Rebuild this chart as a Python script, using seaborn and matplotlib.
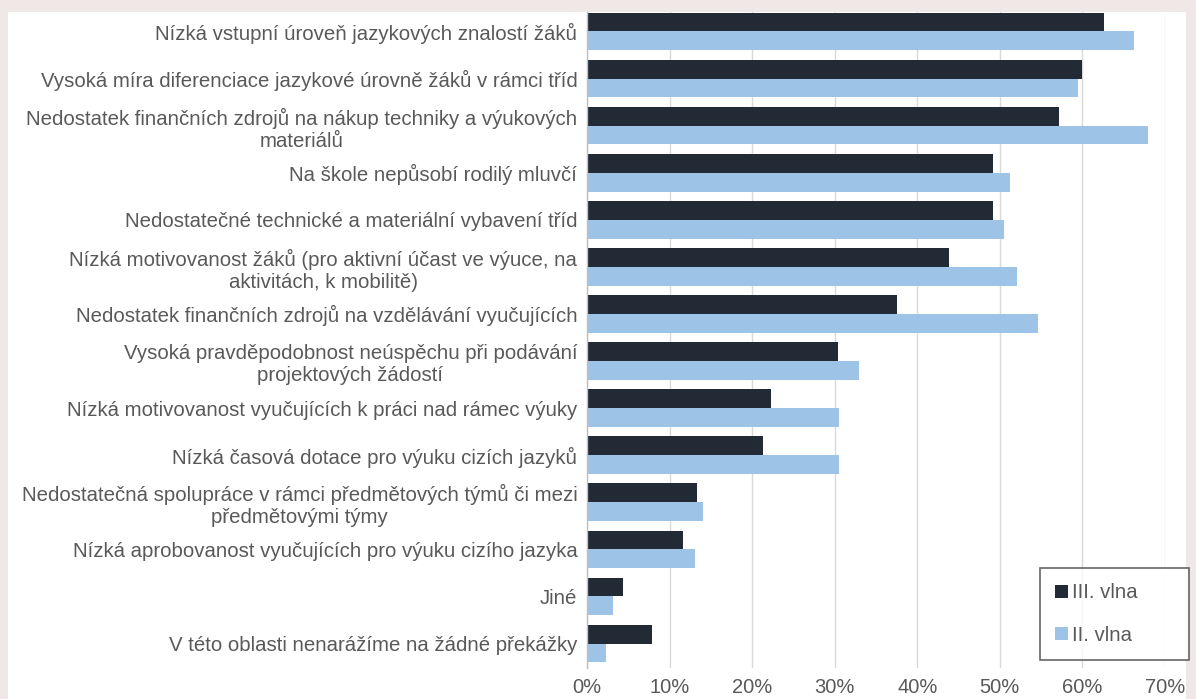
import pandas as pd
import matplotlib
matplotlib.use("Agg")
import matplotlib.pyplot as plt
from matplotlib.patches import Rectangle
import seaborn as sns

# %% Data
categories = [
    "Nízká vstupní úroveň jazykových znalostí žáků",
    "Vysoká míra diferenciace jazykové úrovně žáků v rámci tříd",
    "Nedostatek finančních zdrojů na nákup techniky a výukových\nmateriálů",
    "Na škole nepůsobí rodilý mluvčí",
    "Nedostatečné technické a materiální vybavení tříd",
    "Nízká motivovanost žáků (pro aktivní účast ve výuce, na\naktivitách, k mobilitě)",
    "Nedostatek finančních zdrojů na vzdělávání vyučujících",
    "Vysoká pravděpodobnost neúspěchu při podávání\nprojektových žádostí",
    "Nízká motivovanost vyučujících k práci nad rámec výuky",
    "Nízká časová dotace pro výuku cizích jazyků",
    "Nedostatečná spolupráce v rámci předmětových týmů či mezi\npředmětovými týmy",
    "Nízká aprobovanost vyučujících pro výuku cizího jazyka",
    "Jiné",
    "V této oblasti nenarážíme na žádné překážky",
]
wave3 = [62.6, 59.9, 57.2, 49.2, 49.2, 43.8, 37.5, 30.4, 22.3, 21.3, 13.3, 11.6, 4.4, 7.9]
wave2 = [66.2, 59.5, 67.9, 51.2, 50.5, 52.1, 54.6, 32.9, 30.5, 30.5, 14.0, 13.1, 3.2, 2.3]
waves = ["III. vlna", "II. vlna"]
xticks = [0, 10, 20, 30, 40, 50, 60, 70]
xtick_labels = [f"{t}%" for t in xticks]

df = pd.DataFrame({
    "kategorie": categories * 2,
    "vlna": [waves[0]] * len(categories) + [waves[1]] * len(categories),
    "podil": wave3 + wave2,
})

# %% Plot
sns.set_theme(style="white")
plt.rcParams["font.family"] = ["Liberation Sans", "DejaVu Sans"]

W, H = 1196, 699
fig = plt.figure(figsize=(W / 100, H / 100), dpi=100, facecolor="#efe8e6")
fig.patches.append(Rectangle((8 / W, 0), (1186 - 8) / W, (H - 12) / H,
                             transform=fig.transFigure, facecolor="white",
                             edgecolor="none", zorder=-10))
ax = fig.add_axes([587 / W, 1 - 668 / H, (1165 - 587) / W, (668 - 12) / H])
ax.set_facecolor("white")

sns.barplot(data=df, y="kategorie", x="podil", hue="vlna", order=categories,
            hue_order=waves, palette=["#222a35", "#9dc3e6"], orient="h",
            width=0.8, saturation=1, linewidth=0, ax=ax)

ax.set_xlim(0, 70)
ax.set_ylim(13.52, -0.414)
ax.set_xticks(xticks, xtick_labels)
ax.set_xlabel("")
ax.set_ylabel("")
ax.xaxis.grid(True, color="#d9d9d9", lw=1.0)
ax.set_axisbelow(True)
for s in ["top", "right", "bottom"]:
    ax.spines[s].set_visible(False)
ax.spines["left"].set_color("#bfbfbf")
ax.spines["left"].set_linewidth(1.0)

ax.tick_params(axis="y", length=0, pad=7, labelsize=14.7, labelcolor="#595959")
ax.tick_params(axis="x", length=0, pad=7, labelsize=14.5, labelcolor="#595959")
for t in ax.get_yticklabels():
    t.set_multialignment("center")
    t.set_linespacing(1.2)

ax.legend(loc="upper left", bbox_to_anchor=(1040 / W, 1 - 568 / H, 149 / W, 0),
          bbox_transform=fig.transFigure, mode="expand", frameon=True,
          fancybox=False, edgecolor="#404040", fontsize=14.7, handlelength=0.6,
          handleheight=0.6, handletextpad=0.2, labelspacing=1.15,
          borderpad=0.75, borderaxespad=0)
leg = ax.get_legend()
leg.get_frame().set_linewidth(1.2)
for txt in leg.get_texts():
    txt.set_color("#595959")

fig.savefig("out.png", dpi=100, facecolor=fig.get_facecolor())
